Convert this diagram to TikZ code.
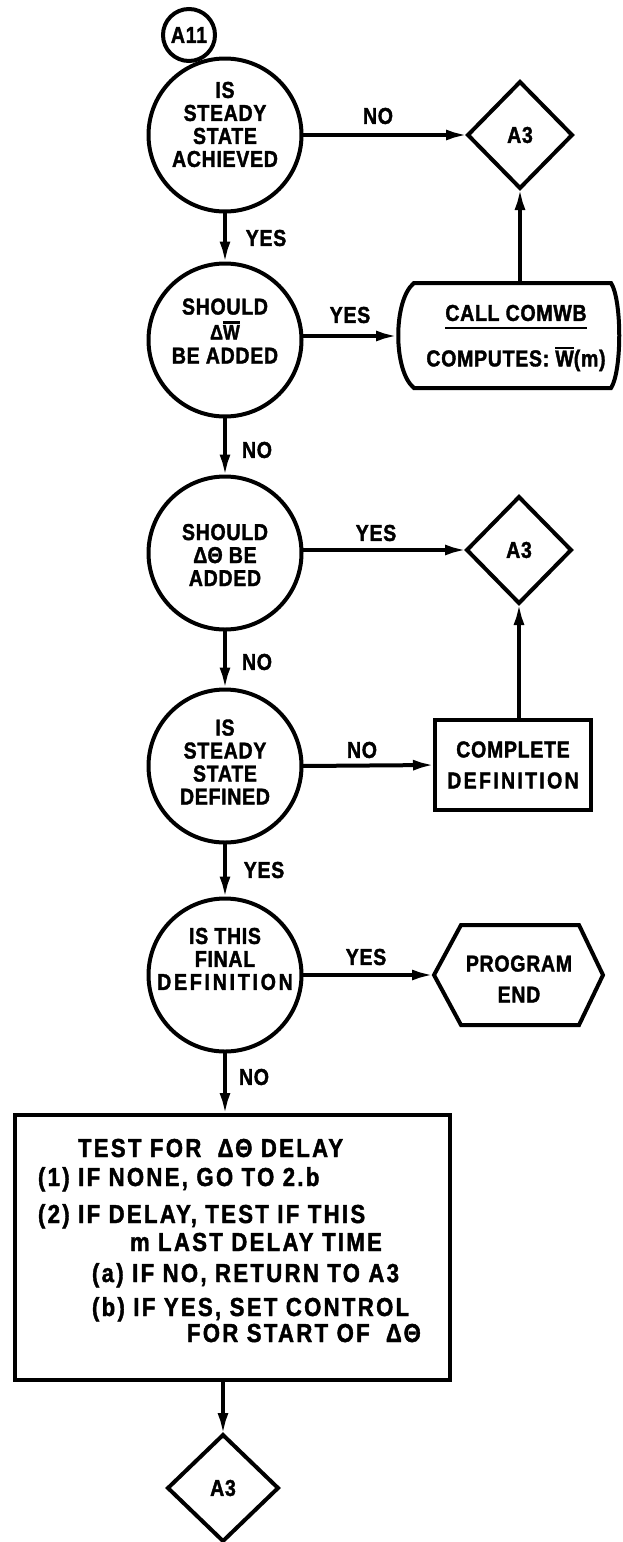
\documentclass[tikz,border=0pt]{standalone}
\usepackage{fontspec}
\usetikzlibrary{shapes.geometric,arrows.meta}
\newfontfamily\chartfont[FakeStretch=0.85,LetterSpace=3,FakeBold=1.6]{Liberation Sans}
\newfontfamily\notefont[FakeStretch=0.85,LetterSpace=9,FakeBold=1.6]{Liberation Sans}
% letter with a heavy bar over it
\newsavebox\barbox
\newcommand\barred[1]{\sbox\barbox{#1}\rlap{\rule[\dimexpr\ht\barbox+1.5pt\relax]{\wd\barbox}{2.2pt}}\usebox\barbox}

\begin{document}
\begin{tikzpicture}[x=1pt,y=-1pt,
  every node/.style={inner sep=0pt,outer sep=0pt},
  ink/.style={line width=4pt},
  arr/.style={ink,-{Latex[length=22pt,width=11pt]}},
  cfont/.style={font=\chartfont\bfseries\fontsize{23}{23}\selectfont},
  qcircle/.style={circle,draw,ink,minimum size=153pt},
  qtext/.style={cfont,align=center},
  flowlab/.style={cfont},
  connector/.style={diamond,draw,ink,cfont,minimum width=104pt,minimum height=106pt},
  stepbox/.style={rectangle,draw,ink,cfont,align=center},
  noteline/.style={anchor=base west,font=\notefont\bfseries\fontsize{26}{26}\selectfont}
]
\fill[white] (0,0) rectangle (623,1542);
\useasboundingbox (0,0) rectangle (623,1542);

% entry connector
\node[circle,draw,ink,cfont,minimum size=52pt] (a11) at (189,35) {A11};

% decision 1
\node[qcircle] (c1) at (225,135) {};
\node[qtext] (c1t) at (225,124.5) {IS\\STEADY\\STATE\\ACHIEVED};
\node[connector] (d1) at (520,135) {A3};
\draw[arr] (c1.east) -- (d1.west);
\node[flowlab] (n1) at (378,116) {NO};
\node[flowlab] (y1) at (266,238) {YES};

% decision 2
\node[qcircle] (c2) at (225,340) {};
\node[qtext] (c2t) at (225,331) {SHOULD\\[2pt]{\fontsize{21}{21}\selectfont Δ\barred{W}}\\[1pt]BE ADDED};
\draw[arr] (c1.south) -- (c2.north);

% CALL COMWB block
\draw[ink] (414,283) -- (611,283) .. controls (622,300) and (622,371) .. (611,388)
  -- (414,388) .. controls (393,371) and (393,300) .. (414,283) -- cycle;
\coordinate (cwL) at (398,336);
\coordinate (cwT) at (520,283);
\node[cfont] (cwa) at (516,313) {CALL COMWB};
\draw[line width=2.8pt] ([yshift=-7pt]cwa.base west) -- ([yshift=-7pt]cwa.base east);
\node[cfont] (cwb) at (516,359) {COMPUTES: \barred{W}(m)};
\draw[arr] (c2.east |- cwL) -- (cwL);
\draw[arr] (cwT) -- (d1.south);
\node[flowlab] (y2) at (350,315) {YES};
\node[flowlab] (n2) at (257,450) {NO};

% decision 3
\node[qcircle] (c3) at (225,553) {};
\node[qtext] (c3t) at (225,555) {SHOULD\\ΔΘ BE\\ADDED};
\node[connector] (d2) at (519,550) {A3};
\draw[arr] (c2.south) -- (c3.north);
\draw[arr] (c3.east |- d2.west) -- (d2.west);
\node[flowlab] (y3) at (376,533) {YES};
\node[flowlab] (n3) at (257,662) {NO};

% decision 4
\node[qcircle] (c4) at (225,766) {};
\node[qtext] (c4t) at (225,762) {IS\\STEADY\\STATE\\DEFINED};
\node[stepbox,minimum width=156pt,minimum height=90pt] (cd) at (513,765)
  {COMPLETE\\[8pt]{\addfontfeature{LetterSpace=10}DEFINITION}};
\draw[arr] (c3.south) -- (c4.north);
\draw[arr] (c4.east) -- (cd.west);
\draw[arr] (cd.north -| d2.south) -- (d2.south);
\node[flowlab] (n4) at (362,750) {NO};
\node[flowlab] (y4) at (264,870) {YES};

% decision 5
\node[qcircle] (c5) at (225,975) {};
\node[qtext] (c5t) at (225,959) {IS THIS\\FINAL\\{\addfontfeature{LetterSpace=12}DEFINITION}};
\draw[arr] (c4.south) -- (c5.north);

% program end
\draw[ink] (434,975) -- (461,925) -- (579,925) -- (603,975) -- (579,1025) -- (461,1025) -- cycle;
\coordinate (peL) at (434,975);
\node[qtext] (pe) at (519,979) {PROGRAM\\[8pt]END};
\draw[arr] (c5.east) -- (peL);
\node[flowlab] (y5) at (366,957) {YES};
\node[flowlab] (n5) at (254,1077) {NO};

% delay test block
\node[rectangle,draw,ink,minimum width=435pt,minimum height=265pt] (tb) at (232.5,1247.5) {};
\node[noteline] (l1) at (78,1157) {TEST FOR\hspace{0.3em} ΔΘ DELAY};
\node[noteline] (l2) at (38,1186) {(1) IF NONE, GO TO 2.b};
\node[noteline] (l3) at (38,1223) {(2) IF DELAY, TEST IF THIS};
\node[noteline] (l4) at (130,1251) {m LAST DELAY TIME};
\node[noteline] (l5) at (92,1282) {(a) IF NO, RETURN TO A3};
\node[noteline] (l6) at (92,1316) {(b) IF YES, SET CONTROL};
\node[noteline] (l7) at (187,1342) {FOR START OF\hspace{0.3em} ΔΘ};
\draw[arr] (c5.south) -- (c5.south |- tb.north);

% exit connector
\node[connector,minimum width=110pt] (d3) at (223,1488) {A3};
\draw[arr] (tb.south -| d3.north) -- (d3.north);
\end{tikzpicture}
\end{document}
